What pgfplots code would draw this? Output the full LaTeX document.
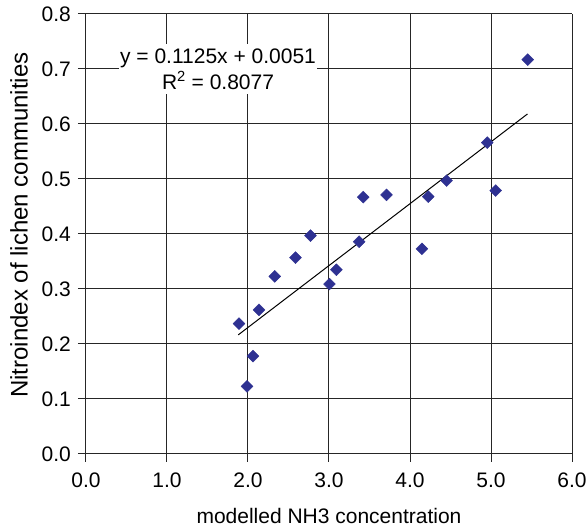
\documentclass[border=0pt]{standalone}
\usepackage{fontspec}
\setmainfont{Liberation Sans}
\usepackage{pgfplots}
\pgfplotsset{compat=1.18}
\definecolor{navy}{HTML}{2E3192}

\begin{document}
\fontsize{21}{25}\selectfont
\begin{tikzpicture}
\begin{axis}[
  scale only axis,
  width=486pt, height=440pt,
  xmin=0, xmax=6, ymin=0, ymax=0.8,
  xtick={0,1,...,6}, ytick={0,0.1,...,0.8},
  grid=major,
  major grid style={black!85, line width=1pt},
  axis line style={black!85, line width=1pt},
  tick style={black!85, line width=1pt},
  tick align=outside,
  major tick length=8pt,
  axis x line*=bottom, axis y line*=left,
  every outer x axis line/.append style={-},
  every outer y axis line/.append style={-},
  xticklabel style={yshift=-4pt, /pgf/number format/.cd, fixed, fixed zerofill, precision=1},
  yticklabel style={/pgf/number format/.cd, fixed, fixed zerofill, precision=1},
  /pgf/number format/assume math mode=true,
  ticklabel style={font=\fontsize{21}{25}\selectfont},
  xlabel={modelled NH3 concentration},
  ylabel={Nitroindex of lichen communities},
  xlabel style={font=\fontsize{21}{25}\selectfont,
    at={([yshift=-47pt]axis description cs:0.5,0)}, anchor=north},
  ylabel style={font=\fontsize{24}{28}\selectfont,
    at={([xshift=-51pt]axis description cs:0,0.52)}, anchor=south},
  clip=false,
]
% data points
\addplot[only marks, mark=square*, mark size=4.2pt,
  mark options={rotate=45, fill=navy, draw=navy}]
  coordinates {
    (1.889,0.237) (2.136,0.262) (2.062,0.178) (1.988,0.123)
    (2.330,0.323) (2.586,0.357) (2.771,0.397) (3.006,0.309)
    (3.092,0.335) (3.372,0.386) (3.422,0.467) (3.710,0.471)
    (4.147,0.373) (4.225,0.468) (4.452,0.497) (5.058,0.479)
    (5.453,0.717) (4.954,0.566)
  };
% linear trendline
\addplot[black, line width=1pt] coordinates {(1.88,0.2166) (5.45,0.6182)};
\node[fill=white, inner xsep=1pt, inner ysep=5pt, align=center,
  font=\fontsize{21}{26}\selectfont]
  at (axis cs:1.63,0.70) {y = 0.1125x + 0.0051\\R\textsuperscript{2} = 0.8077};
\coordinate (bbsw) at (rel axis cs:0,0);
\coordinate (bbne) at (rel axis cs:1,1);
\end{axis}
\pgfresetboundingbox
\useasboundingbox ([shift={(-86pt,-75pt)}]bbsw) rectangle ([shift={(15pt,14pt)}]bbne);
\end{tikzpicture}
\end{document}
